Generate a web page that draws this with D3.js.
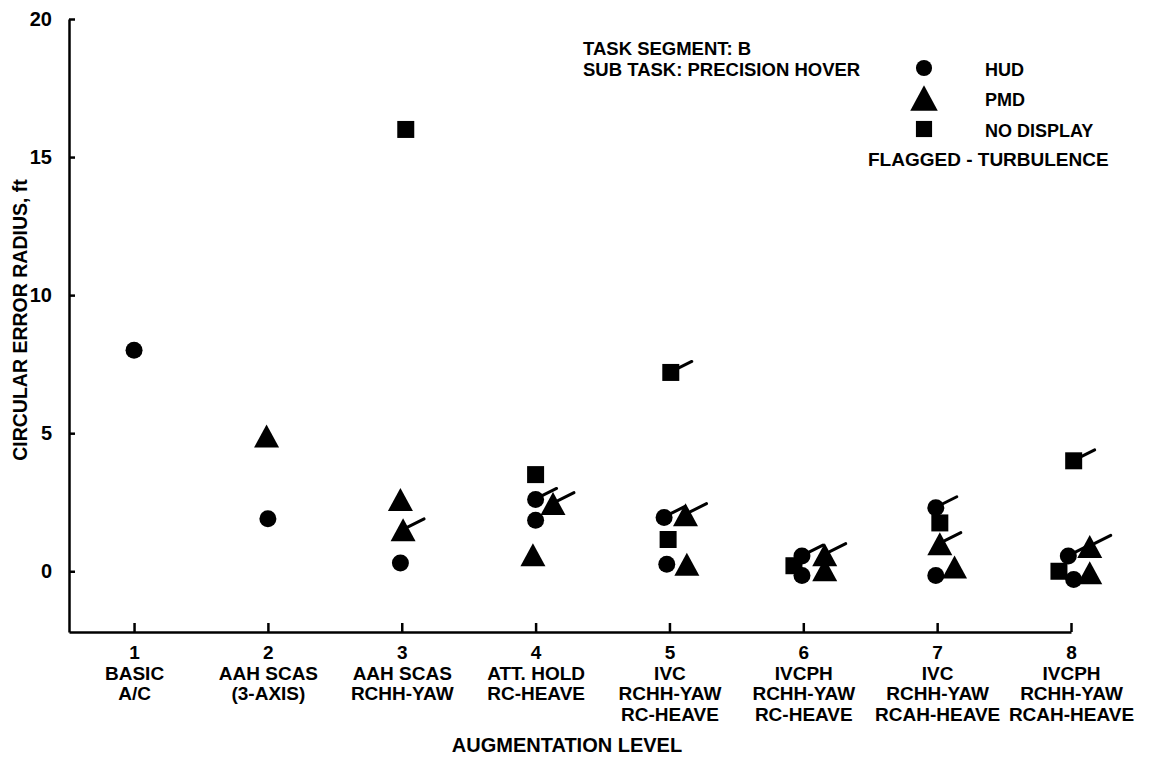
<!DOCTYPE html>
<html>
<head>
<meta charset="utf-8">
<script src="https://cdn.jsdelivr.net/npm/d3@7"></script>
<style>
  html, body { margin: 0; padding: 0; background: #fff; }
  svg { display: block; }
  text { font-family: "Liberation Sans", Arial, Helvetica, sans-serif; font-weight: bold; fill: #000; }
</style>
</head>
<body>
<svg id="chart" width="1151" height="760"></svg>
<script>
// ---------- data ----------
const categories = [1, 2, 3, 4, 5, 6, 7, 8];
const categoryLabels = [
  ["BASIC", "A/C"],
  ["AAH SCAS", "(3-AXIS)"],
  ["AAH SCAS", "RCHH-YAW"],
  ["ATT. HOLD", "RC-HEAVE"],
  ["IVC", "RCHH-YAW", "RC-HEAVE"],
  ["IVCPH", "RCHH-YAW", "RC-HEAVE"],
  ["IVC", "RCHH-YAW", "RCAH-HEAVE"],
  ["IVCPH", "RCHH-YAW", "RCAH-HEAVE"]
];
const yTicks = [0, 5, 10, 15, 20];

// HUD (circles)
const hudLevel   = [1.00, 2.00, 2.99, 4.00, 4.00, 4.96, 4.98, 5.99, 5.99, 6.99, 6.99, 7.98, 8.02];
const hudRadius  = [8.0,  1.9,  0.3,  2.6,  1.85, 1.95, 0.25, 0.55, -0.15, 2.3, -0.15, 0.55, -0.3];
const hudFlagged = [0,    0,    0,    1,    0,    1,    0,    1,    0,    1,    0,    1,    0];

// PMD (triangles)
const pmdLevel   = [1.99, 2.99, 3.01, 4.13, 3.98, 5.12, 5.13, 6.16, 6.16, 7.02, 7.13, 8.14, 8.14];
const pmdRadius  = [4.9,  2.6,  1.5,  2.45, 0.6,  2.05, 0.25, 0.6,  0.05, 1.0,  0.15, 0.9,  -0.05];
const pmdFlagged = [0,    0,    1,    1,    0,    1,    0,    1,    0,    1,    0,    1,    0];

// NO DISPLAY (squares)
const ndLevel    = [3.03, 4.00, 5.01, 4.99, 5.93, 7.02, 8.02, 7.91];
const ndRadius   = [16.0, 3.5,  7.2,  1.15, 0.2,  1.75, 4.0,  0.0];
const ndFlagged  = [0,    0,    1,    0,    0,    0,    1,    0];

const legendItems = ["HUD", "PMD", "NO DISPLAY"];
const legendShapes = ["circle", "triangle", "square"];
const infoLines = ["TASK SEGMENT: B", "SUB TASK: PRECISION HOVER"];
const flagLabel = "FLAGGED - TURBULENCE";
const xTitle = "AUGMENTATION LEVEL";
const yTitle = "CIRCULAR ERROR RADIUS, ft";

// ---------- layout ----------
const svg = d3.select("#chart");
const x = d3.scaleLinear().domain([0.514, 8]).range([69, 1071]);
const y = d3.scaleLinear().domain([-2.2, 20]).range([632, 19]);
const FONT = 19;

function shapePath(kind, s) {
  if (kind === "circle") {
    const r = 8.5 * s;
    return `M${-r},0A${r},${r} 0 1,0 ${r},0A${r},${r} 0 1,0 ${-r},0Z`;
  }
  if (kind === "square") {
    const h = 8.5 * s;
    return `M${-h},${-h}H${h}V${h}H${-h}Z`;
  }
  const w = 12.5 * s, hh = 11.5 * s;
  return `M0,${-hh}L${w},${hh}L${-w},${hh}Z`;
}

function drawSeries(levels, radii, flags, kind) {
  const data = levels.map((l, i) => ({ l, r: radii[i], f: flags[i] }));
  const g = svg.append("g").attr("class", "series-" + kind);
  const pts = g.selectAll("g.pt").data(data).join("g")
    .attr("class", "pt")
    .attr("transform", d => `translate(${x(d.l)},${y(d.r)})`);
  pts.append("path").attr("d", shapePath(kind, 1)).attr("fill", "#000");
  pts.filter(d => d.f).append("line")
    .attr("x1", 5).attr("y1", -3).attr("x2", 21).attr("y2", -11)
    .attr("stroke", "#000").attr("stroke-width", 3).attr("stroke-linecap", "round");
}

// ---------- axes ----------
const yAxis = d3.axisLeft(y).tickValues(yTicks).tickSize(-6).tickSizeOuter(0).tickPadding(17);
const yg = svg.append("g").attr("transform", `translate(${x(0.514)},0)`).call(yAxis);
yg.select(".domain").attr("stroke", "#000").attr("stroke-width", 2.5);
yg.selectAll(".tick line").attr("stroke", "#000").attr("stroke-width", 2.5);
yg.selectAll(".tick text").style("font-size", "20px").style("font-weight", "bold")
  .style("font-family", '"Liberation Sans", Arial, sans-serif').attr("fill", "#000");

const xAxis = d3.axisBottom(x).tickValues(categories).tickSize(-9).tickSizeOuter(0).tickFormat(() => "");
const xg = svg.append("g").attr("transform", `translate(0,${y(-2.2)})`).call(xAxis);
xg.select(".domain").attr("stroke", "#000").attr("stroke-width", 2.5);
xg.selectAll(".tick line").attr("stroke", "#000").attr("stroke-width", 2.5);
xg.selectAll(".tick").each(function(d, i) {
  const t = d3.select(this).append("text")
    .attr("text-anchor", "middle")
    .style("font-size", FONT + "px");
  const lines = [String(d)].concat(categoryLabels[i]);
  lines.forEach((ln, j) => {
    t.append("tspan").attr("x", 0).attr("y", 27 + j * 20.5).text(ln);
  });
});

// axis titles
svg.append("text").attr("x", 567).attr("y", 752).attr("text-anchor", "middle")
  .style("font-size", "20px").text(xTitle);
svg.append("text")
  .attr("transform", `translate(27,320) rotate(-90)`)
  .attr("text-anchor", "middle")
  .style("font-size", "19.5px").text(yTitle);

// ---------- marks ----------
drawSeries(hudLevel, hudRadius, hudFlagged, "circle");
drawSeries(pmdLevel, pmdRadius, pmdFlagged, "triangle");
drawSeries(ndLevel, ndRadius, ndFlagged, "square");

// ---------- legend / info ----------
infoLines.forEach((t, i) => {
  svg.append("text").attr("x", 583).attr("y", 55 + i * 21)
    .style("font-size", "18.5px").text(t);
});
const legendY = [68, 98, 129];
legendItems.forEach((t, i) => {
  svg.append("path").attr("d", shapePath(legendShapes[i], legendShapes[i] === "triangle" ? 1.1 : 0.95))
    .attr("transform", `translate(924,${legendY[i]})`).attr("fill", "#000");
  svg.append("text").attr("x", 985).attr("y", legendY[i] + 8)
    .style("font-size", "18px").text(t);
});
svg.append("text").attr("x", 868).attr("y", 166).style("font-size", "19px").text(flagLabel);
</script>
</body>
</html>
